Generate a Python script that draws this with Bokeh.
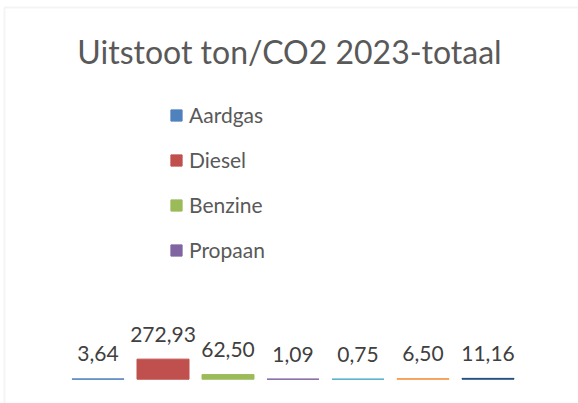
from bokeh.plotting import figure
from bokeh.models import Range1d, ColumnDataSource, Legend, LegendItem, Label, BoxAnnotation
from bokeh.core.properties import value
from bokeh.embed import file_html
from bokeh.resources import INLINE

# ---- data ----
categories = ["Aardgas", "Diesel", "Benzine", "Propaan", "Cat. 5", "Cat. 6", "Cat. 7"]
values = [3.64, 272.93, 62.50, 1.09, 0.75, 6.50, 11.16]
colors = ["#4F81BD", "#C0504D", "#9BBB59", "#8064A2", "#4BACC6", "#F79646", "#1F497D"]
legend_count = 4
title_text = "Uitstoot ton/CO2 2023-totaal"

labels = [f"{v:.2f}".replace(".", ",") for v in values]
xs = list(range(len(values)))

# ---- layout (figure placed at page (0,0)) ----
W, H = 578, 403
UNITS_PER_PX = 13.6
BASE_Y = 378.7            # pixel y of value 0
CAT_PX = 65.0             # pixels per category
FIRST_CENTER_X = 97.5     # pixel x of first category centre

x_start = -FIRST_CENTER_X / CAT_PX
x_end = x_start + W / CAT_PX
y_start = -(H - BASE_Y) * UNITS_PER_PX
y_end = BASE_Y * UNITS_PER_PX

def fx(px):
    return x_start + px / CAT_PX

def fy(py):
    return (BASE_Y - py) * UNITS_PER_PX

p = figure(width=W, height=H, output_backend="svg", toolbar_location=None,
           x_range=Range1d(x_start, x_end), y_range=Range1d(y_start, y_end),
           x_axis_location=None, y_axis_location=None,
           min_border=0, min_border_left=0, min_border_right=0,
           min_border_top=0, min_border_bottom=0)
p.grid.visible = False
p.background_fill_color = "white"
p.border_fill_color = "white"
p.outline_line_color = None

# chart-area border (left and top edges visible)
p.add_layout(BoxAnnotation(left=fx(4), top=fy(7), right=fx(620), bottom=fy(440),
                           fill_alpha=0, line_color="#D9D9D9", line_width=2))

src = ColumnDataSource(dict(x=xs, top=values, color=colors, label=labels, cat=categories))
r = p.vbar(x="x", top="top", bottom=0, width=0.8, source=src,
           fill_color="color", line_color="color", line_width=1)

p.text(x="x", y="top", text="label", source=src,
       text_font=value("Lato"), text_font_size="21px", text_color="#404040",
       text_align="center", text_baseline="alphabetic", y_offset=-25)

p.add_layout(Label(x=fx(289), y=fy(51), text=title_text,
                   text_font="Lato", text_font_size="32px", text_color="#595959",
                   text_align="center", text_baseline="alphabetic"))

items = [LegendItem(label=categories[i], renderers=[r], index=i) for i in range(legend_count)]
legend = Legend(items=items, location=(169, H - 262), orientation="vertical",
                glyph_width=14, glyph_height=14, label_height=25, label_standoff=6,
                spacing=20, padding=0, margin=0,
                border_line_color=None, background_fill_alpha=0,
                label_text_font="Lato", label_text_font_size="21px",
                label_text_color="#595959")
p.add_layout(legend)

open("out.html", "w").write(file_html(p, INLINE))
